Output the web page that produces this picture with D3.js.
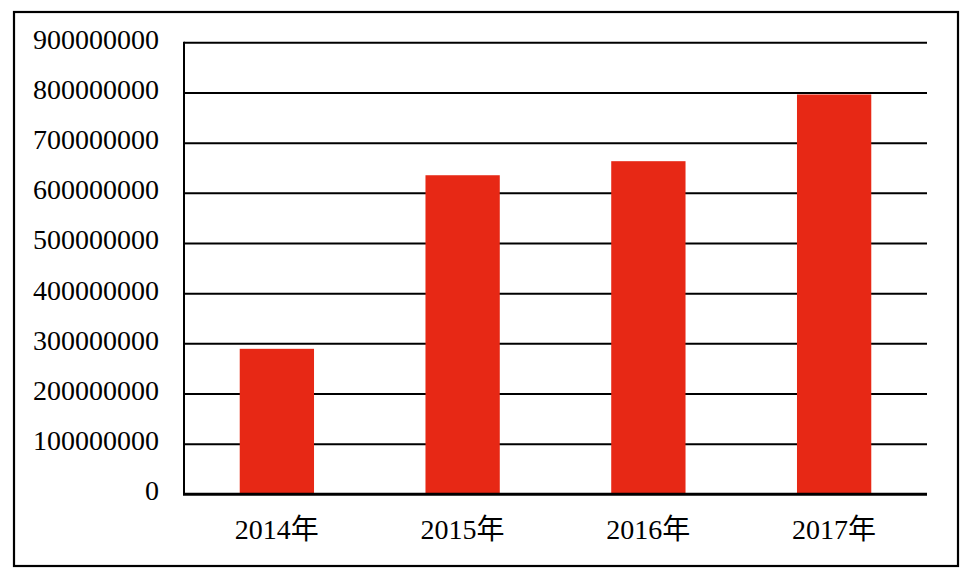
<!DOCTYPE html>
<html>
<head>
<meta charset="utf-8">
<script src="https://cdn.jsdelivr.net/npm/d3@7"></script>
<style>
  html, body { margin: 0; padding: 0; background: #fff; }
  svg { display: block; }
  text { font-family: "Liberation Serif", "Noto Sans CJK SC", serif; fill: #000; }
</style>
</head>
<body>
<svg id="chart" width="975" height="578"></svg>
<script>
const categories = ["2014年", "2015年", "2016年", "2017年"];
const values = [290000000, 636000000, 664000000, 797000000];
const yTicks = [0, 100000000, 200000000, 300000000, 400000000, 500000000, 600000000, 700000000, 800000000, 900000000];

const W = 975, H = 578;
const plot = { left: 184, right: 927, top: 42.8, bottom: 494.3 };
const svg = d3.select("#chart");

// outer frame
svg.append("rect")
  .attr("x", 14).attr("y", 12)
  .attr("width", 958 - 14).attr("height", 566 - 12)
  .attr("fill", "#fff").attr("stroke", "#000").attr("stroke-width", 2.2);

const x = d3.scaleBand().domain(categories).range([plot.left, plot.right]).paddingInner(0.6).paddingOuter(0.3);
const y = d3.scaleLinear().domain([0, 900000000]).range([plot.bottom, plot.top]);

// gridlines
svg.append("g").selectAll("line")
  .data(yTicks.filter(d => d !== 0))
  .join("line")
  .attr("x1", plot.left).attr("x2", plot.right)
  .attr("y1", d => y(d)).attr("y2", d => y(d))
  .attr("stroke", "#000").attr("stroke-width", 2);

// bars
svg.append("g").selectAll("rect")
  .data(values)
  .join("rect")
  .attr("x", (d, i) => x(categories[i]))
  .attr("width", x.bandwidth())
  .attr("y", d => y(d))
  .attr("height", d => y(0) - y(d))
  .attr("fill", "#E72815");

// y axis line
svg.append("line")
  .attr("x1", plot.left).attr("x2", plot.left)
  .attr("y1", plot.top - 1).attr("y2", plot.bottom)
  .attr("stroke", "#000").attr("stroke-width", 2);

// x baseline
svg.append("line")
  .attr("x1", plot.left - 1).attr("x2", plot.right)
  .attr("y1", y(0)).attr("y2", y(0))
  .attr("stroke", "#000").attr("stroke-width", 3);

// y tick labels
svg.append("g").selectAll("text")
  .data(yTicks)
  .join("text")
  .attr("x", 159)
  .attr("y", d => y(d) + 6)
  .attr("text-anchor", "end")
  .attr("font-size", 28)
  .text(d => d3.format("d")(d));

// x tick labels
svg.append("g").selectAll("text")
  .data(categories)
  .join("text")
  .attr("x", d => x(d) + x.bandwidth() / 2)
  .attr("y", 539)
  .attr("text-anchor", "middle")
  .attr("font-size", 28)
  .text(d => d);
</script>
</body>
</html>
